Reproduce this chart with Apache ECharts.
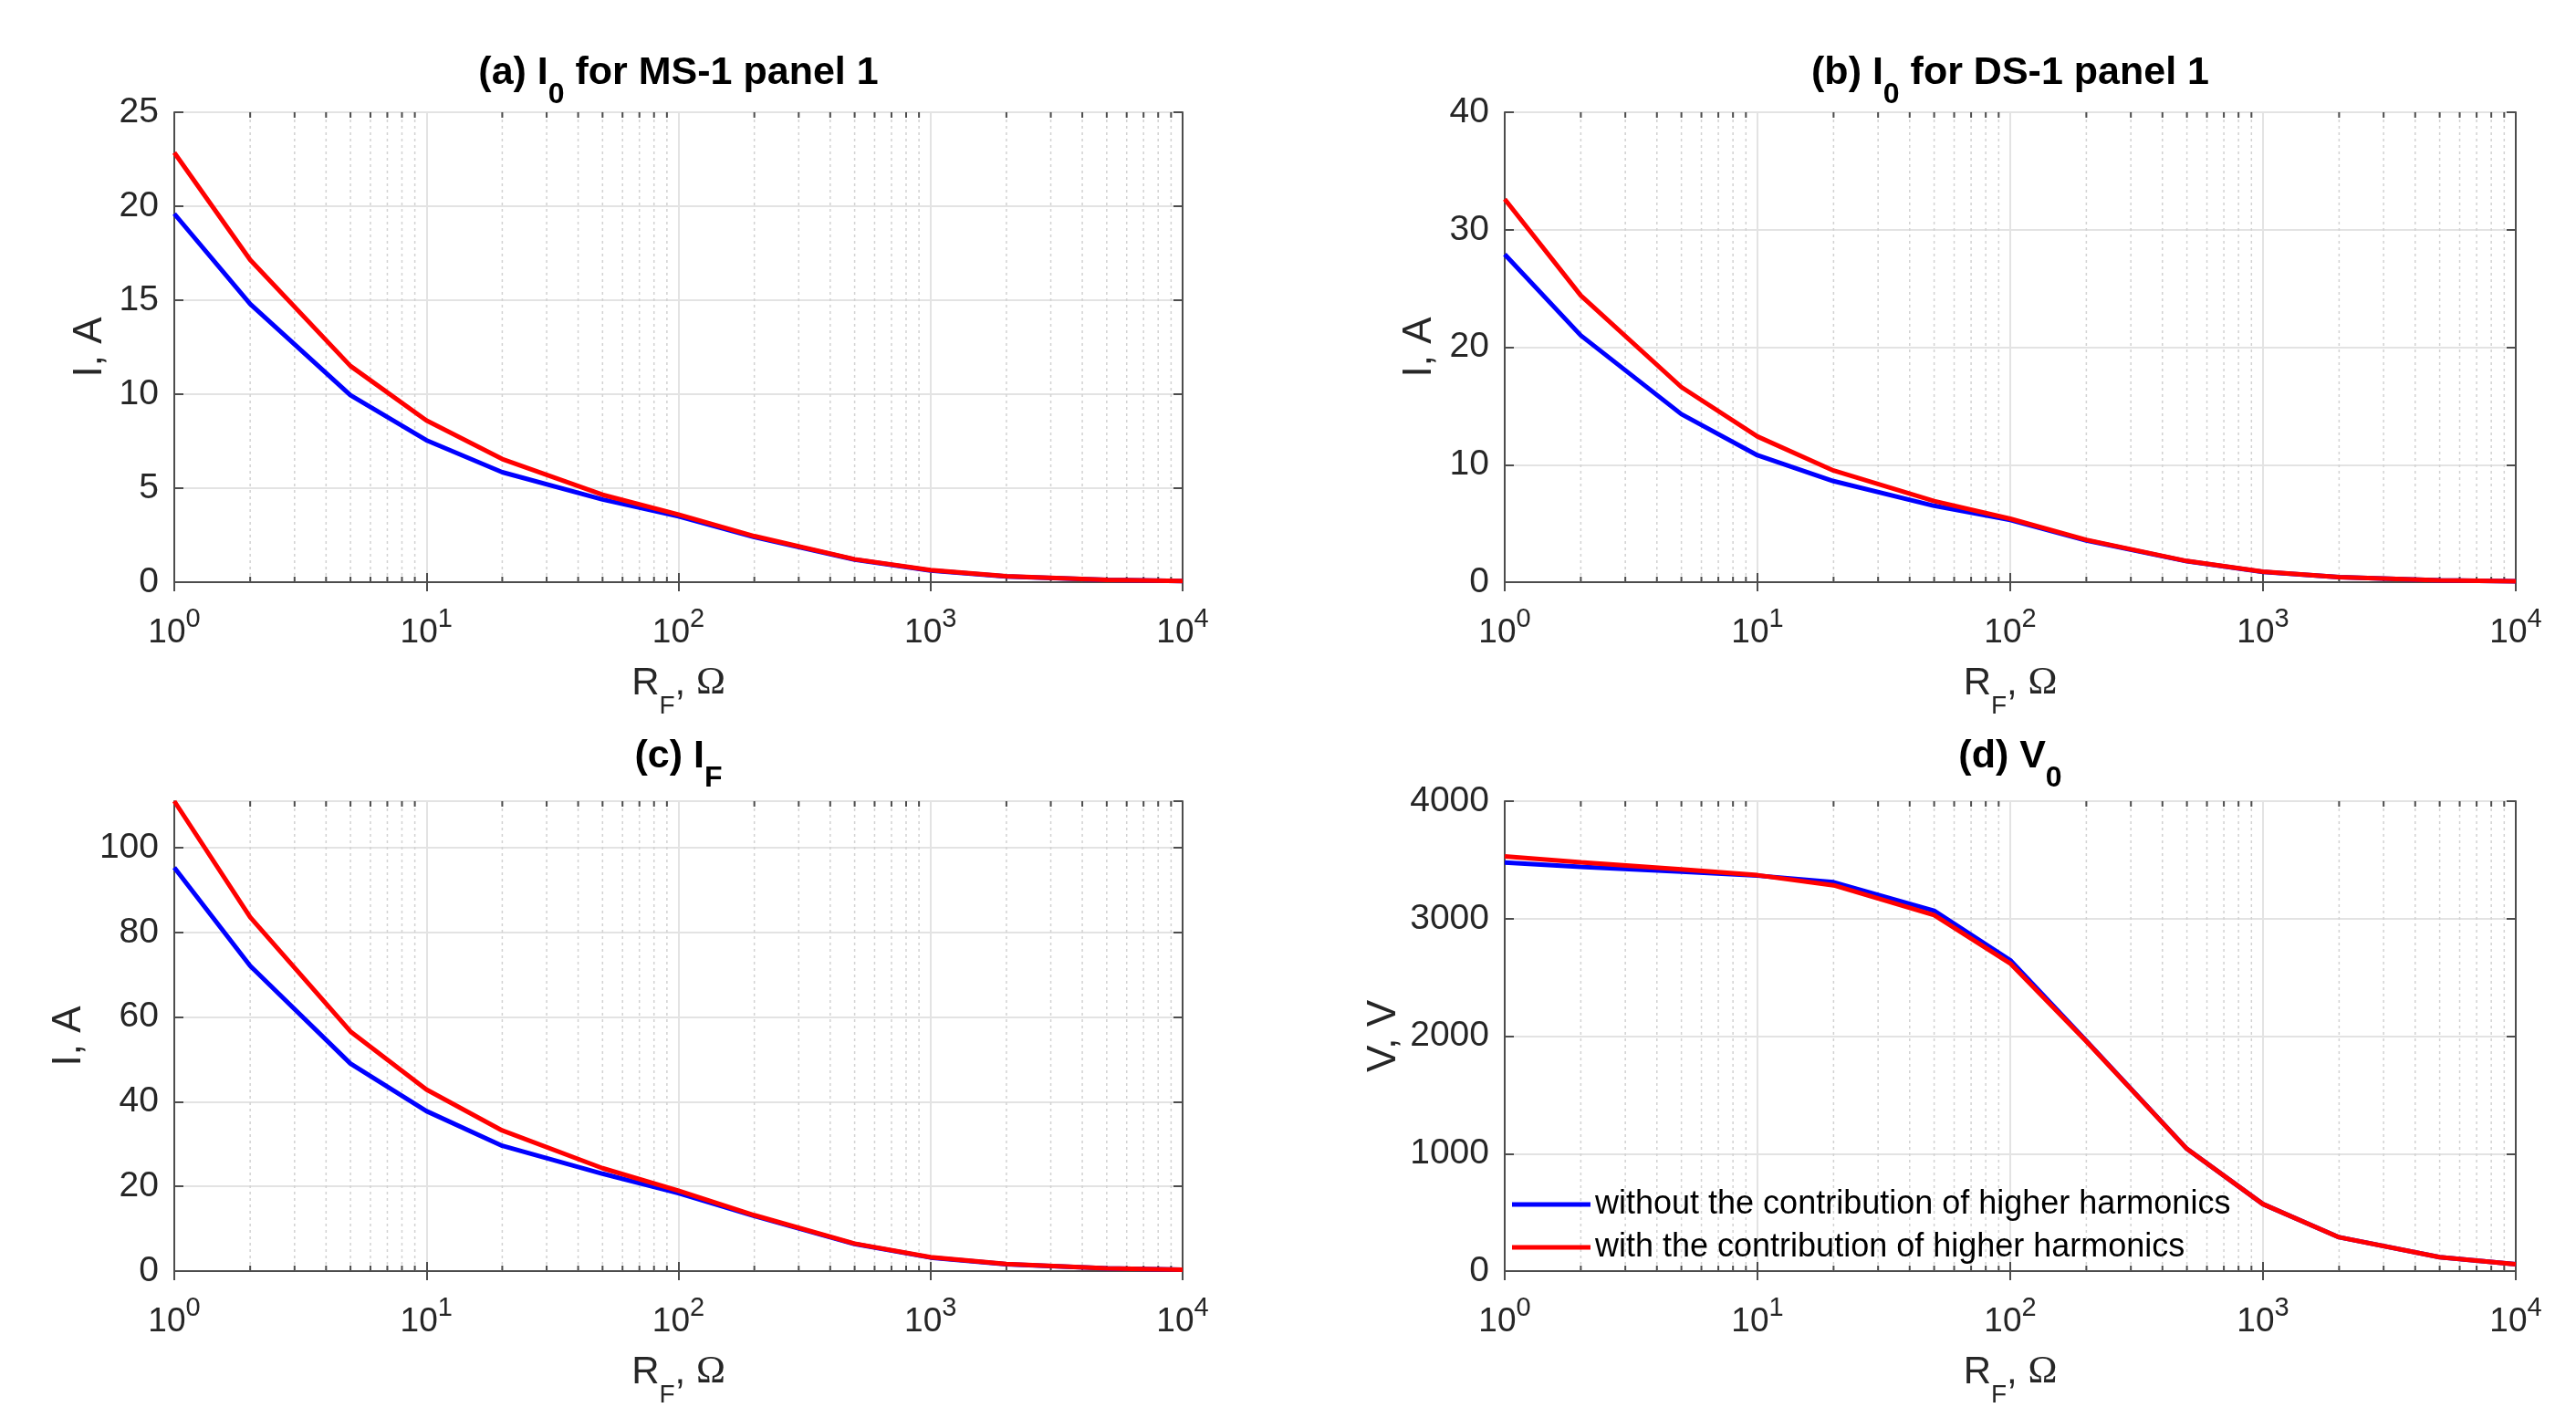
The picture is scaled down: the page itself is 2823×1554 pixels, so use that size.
<!DOCTYPE html>
<html>
<head>
<meta charset="utf-8">
<script src="https://cdn.jsdelivr.net/npm/echarts@6/dist/echarts.min.js"></script>
<style>html,body{margin:0;padding:0;background:#fff;}#chart{width:2823px;height:1554px;}</style>
</head>
<body>
<div id="chart"></div>
<script>
// ---- data ----
const rf = [1, 2, 5, 10, 20, 50, 100, 200, 500, 1000, 2000, 5000, 10000];
const aWithout = [19.6, 14.8, 9.95, 7.55, 5.85, 4.4, 3.5, 2.4, 1.2, 0.62, 0.3, 0.12, 0.06];
const aWith    = [22.85, 17.15, 11.5, 8.6, 6.55, 4.65, 3.6, 2.45, 1.22, 0.64, 0.31, 0.12, 0.06];
const bWithout = [27.9, 21.0, 14.3, 10.8, 8.6, 6.5, 5.3, 3.55, 1.78, 0.88, 0.42, 0.16, 0.08];
const bWith    = [32.6, 24.4, 16.6, 12.4, 9.5, 6.9, 5.4, 3.6, 1.8, 0.9, 0.43, 0.16, 0.08];
const cWithout = [95.3, 72.1, 49.0, 37.8, 29.6, 23.0, 18.4, 13.0, 6.4, 3.2, 1.6, 0.65, 0.3];
const cWith    = [111.0, 83.6, 56.6, 42.9, 33.2, 24.3, 19.0, 13.2, 6.5, 3.3, 1.65, 0.67, 0.3];
const dWithout = [3478, 3440, 3400, 3366, 3310, 3067, 2646, 1960, 1040, 570, 288, 118, 58];
const dWith    = [3530, 3480, 3420, 3370, 3284, 3030, 2619, 1955, 1040, 570, 288, 118, 58];
const seriesNames = ['without the contribution of higher harmonics', 'with the contribution of higher harmonics'];
const minorX = [2,3,4,5,6,7,8,9,20,30,40,50,60,70,80,90,200,300,400,500,600,700,800,900,2000,3000,4000,5000,6000,7000,8000,9000];

// ---- layout ----
const FONT = 'Liberation Sans, Arial, Helvetica, sans-serif';
const TXT = '#262626';
const AX = '#4d4d4d';
const GRIDC = '#e3e3e3';
const panels = [
  {t: '{t|(a) I}{s|0}{t| for MS-1 panel 1}', yName: 'I, A', yMin: 0, yMax: 25, yInt: 5, w: aWithout, r: aWith,
   grid: {left: 191, top: 123, width: 1105, height: 515}, nameGap: 70, titleTop: 41},
  {t: '{t|(b) I}{s|0}{t| for DS-1 panel 1}', yName: 'I, A', yMin: 0, yMax: 40, yInt: 10, w: bWithout, r: bWith,
   grid: {left: 1649, top: 123, width: 1108, height: 515}, nameGap: 71, titleTop: 41},
  {t: '{t|(c) I}{s|F}', yName: 'I, A', yMin: 0, yMax: 111, yInt: 20, w: cWithout, r: cWith,
   grid: {left: 191, top: 878, width: 1105, height: 515}, nameGap: 93, titleTop: 790},
  {t: '{t|(d) V}{s|0}', yName: 'V, V', yMin: 0, yMax: 4000, yInt: 1000, w: dWithout, r: dWith,
   grid: {left: 1649, top: 878, width: 1108, height: 515}, nameGap: 110, titleTop: 790}
];

const option = {
  backgroundColor: '#ffffff',
  animation: false,
  title: [], grid: [], xAxis: [], yAxis: [], series: [],
  legend: {
    data: seriesNames.map(n => ({name: n, icon: 'rect'})),
    orient: 'vertical', left: 1657, top: 1302, itemWidth: 86, itemHeight: 5, itemGap: 11,
    padding: 0,
    textStyle: {fontFamily: FONT, fontSize: 36, color: '#000'}
  }
};

panels.forEach((p, i) => {
  option.grid.push(Object.assign({containLabel: false}, p.grid));
  option.title.push({
    text: p.t, left: p.grid.left + p.grid.width / 2, textAlign: 'center', top: p.titleTop, padding: 0,
    textStyle: {
      rich: {
        t: {fontFamily: FONT, fontSize: 43, fontWeight: 'bold', color: '#000'},
        s: {fontFamily: FONT, fontSize: 32, fontWeight: 'bold', color: '#000', padding: [47, 0, 0, 0]}
      }
    }
  });
  // bottom log x axis
  option.xAxis.push({
    type: 'log', logBase: 10, min: 1, max: 10000, gridIndex: i, position: 'bottom',
    name: '{r|R}{s|F}{r|, }{o|Ω}', nameLocation: 'middle', nameGap: 72,
    nameTextStyle: {
      rich: {
        r: {fontFamily: FONT, fontSize: 42, color: TXT},
        s: {fontFamily: FONT, fontSize: 28, color: TXT, padding: [50, 0, 0, 0]},
        o: {fontFamily: 'Liberation Serif, serif', fontSize: 43, color: TXT}
      }
    },
    axisLine: {show: true, lineStyle: {color: AX, width: 2}},
    axisTick: {show: true, inside: true, length: 10, lineStyle: {color: AX, width: 2}},
    axisLabel: {
      margin: 26,
      formatter: v => '{b|10}{p|' + Math.round(Math.log10(v)) + '}',
      rich: {
        b: {fontFamily: FONT, fontSize: 37, color: TXT},
        p: {fontFamily: FONT, fontSize: 29, color: TXT, padding: [0, 0, 30, 0]}
      }
    },
    splitLine: {show: true, lineStyle: {color: GRIDC, width: 2}}
  });
  // top x axis (box + ticks)
  option.xAxis.push({
    type: 'log', logBase: 10, min: 1, max: 10000, gridIndex: i, position: 'top',
    axisLine: {show: true, lineStyle: {color: AX, width: 2}},
    axisTick: {show: true, inside: true, length: 10, lineStyle: {color: AX, width: 2}},
    axisLabel: {show: false}, splitLine: {show: false}
  });
  // left y axis
  option.yAxis.push({
    type: 'value', min: p.yMin, max: p.yMax, interval: p.yInt, gridIndex: i, position: 'left',
    name: p.yName, nameLocation: 'middle', nameGap: p.nameGap, nameRotate: 90,
    nameTextStyle: {fontFamily: FONT, fontSize: 44, color: TXT},
    axisLine: {show: true, lineStyle: {color: AX, width: 2}},
    axisTick: {show: true, inside: true, length: 10, lineStyle: {color: AX, width: 2}},
    axisLabel: {margin: 17, fontFamily: FONT, fontSize: 39, color: TXT,
      showMaxLabel: p.yMax % p.yInt === 0, formatter: v => String(v)},
    splitLine: {show: true, lineStyle: {color: GRIDC, width: 2}}
  });
  // right y axis
  option.yAxis.push({
    type: 'value', min: p.yMin, max: p.yMax, interval: p.yInt, gridIndex: i, position: 'right',
    axisLine: {show: true, lineStyle: {color: AX, width: 2}},
    axisTick: {show: true, inside: true, length: 10, lineStyle: {color: AX, width: 2}},
    axisLabel: {show: false}, splitLine: {show: false}
  });
  const xi = 2 * i, yi = 2 * i;
  // minor gridlines + minor ticks (decoration) through the axis scale
  option.series.push({
    type: 'custom', xAxisIndex: xi, yAxisIndex: yi, z: 1, silent: true,
    data: minorX.map(v => [v, p.yMin]),
    renderItem: (params, api) => {
      const x = api.value(0);
      const pb = api.coord([x, p.yMin]);
      const pt = api.coord([x, p.yMax]);
      return {type: 'group', children: [
        {type: 'line', shape: {x1: pb[0], y1: pb[1], x2: pt[0], y2: pt[1]},
         style: {stroke: '#d2d2d2', lineWidth: 1.5, lineDash: [3, 4]}},
        {type: 'line', shape: {x1: pb[0], y1: pb[1], x2: pb[0], y2: pb[1] - 6},
         style: {stroke: AX, lineWidth: 2}},
        {type: 'line', shape: {x1: pt[0], y1: pt[1], x2: pt[0], y2: pt[1] + 6},
         style: {stroke: AX, lineWidth: 2}}
      ]};
    }
  });
  option.series.push({
    name: seriesNames[0], type: 'line', xAxisIndex: xi, yAxisIndex: yi, z: 3,
    data: rf.map((x, k) => [x, p.w[k]]), showSymbol: false, symbol: 'none',
    lineStyle: {color: '#0000ff', width: 5}, itemStyle: {color: '#0000ff'}
  });
  option.series.push({
    name: seriesNames[1], type: 'line', xAxisIndex: xi, yAxisIndex: yi, z: 4,
    data: rf.map((x, k) => [x, p.r[k]]), showSymbol: false, symbol: 'none',
    lineStyle: {color: '#ff0000', width: 5}, itemStyle: {color: '#ff0000'}
  });
});

const chart = echarts.init(document.getElementById('chart'), null, {renderer: 'canvas'});
chart.setOption(option);
</script>
</body>
</html>
